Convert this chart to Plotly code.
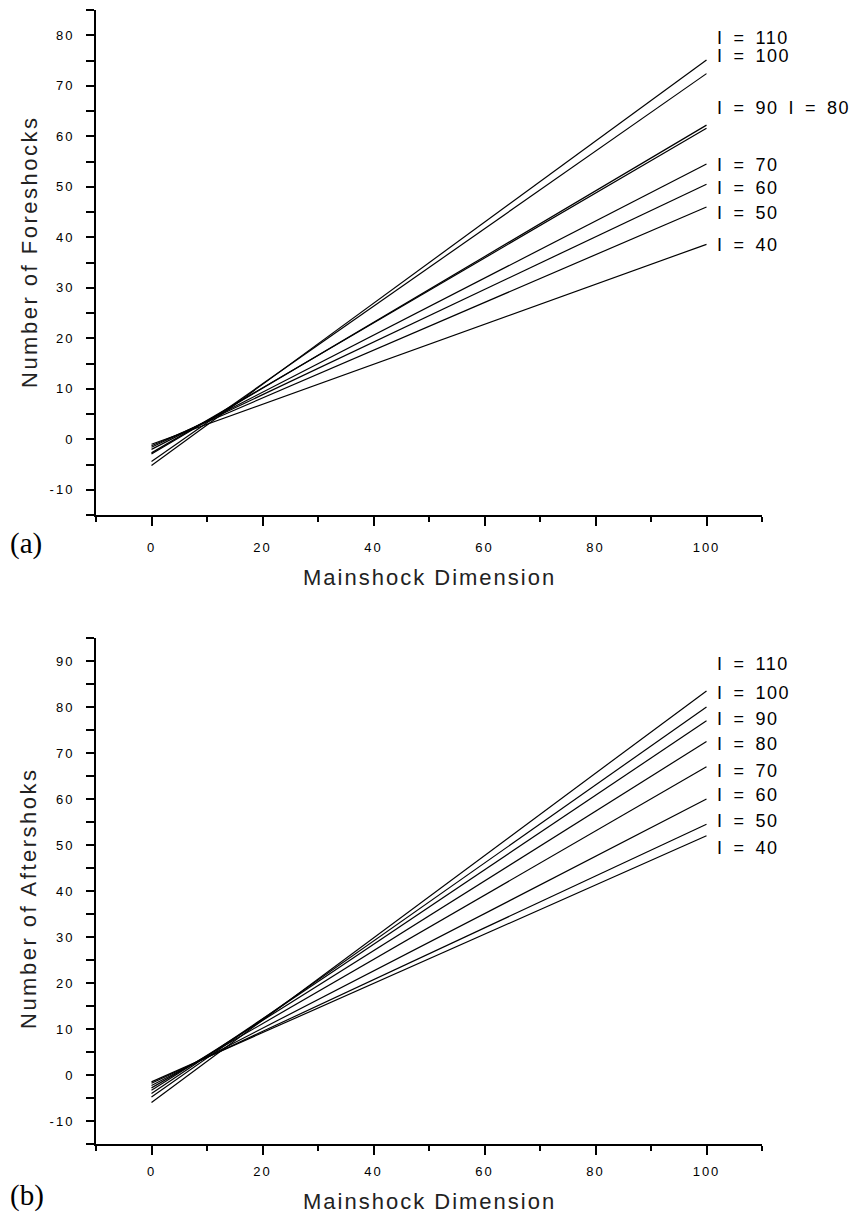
import plotly.graph_objects as go

W, H = 851, 1217

# ---- data ----
intensity = [110, 100, 90, 80, 70, 60, 50, 40]
x_ends = [0, 100]

fore_start = [-5.2, -4.4, -2.9, -2.7, -2.0, -1.6, -1.3, -1.0]
fore_end = [75.1, 72.4, 62.2, 61.6, 54.5, 50.5, 46.0, 38.6]

after_start = [-6.0, -4.8, -4.0, -3.3, -2.8, -2.3, -1.8, -1.5]
after_end = [83.5, 80.0, 77.0, 72.5, 67.0, 60.0, 54.5, 52.0]

x_ticks = [0, 20, 40, 60, 80, 100]
fore_yticks = [-10, 0, 10, 20, 30, 40, 50, 60, 70, 80]
after_yticks = [-10, 0, 10, 20, 30, 40, 50, 60, 70, 80, 90]

# ---- label placement (data coords of text) ----
fore_label_text = ["I = 110", "I = 100", "I = 90 I = 80", "I = 70", "I = 60", "I = 50", "I = 40"]
fore_label_y = [79.4, 75.8, 65.6, 54.3, 49.7, 44.9, 38.5]
after_label_text = ["I = 110", "I = 100", "I = 90", "I = 80", "I = 70", "I = 60", "I = 50", "I = 40"]
after_label_y = [89.3, 83.0, 77.4, 72.0, 66.1, 60.9, 55.2, 49.3]


def px(x):
    return x / W


def py(y):
    return 1 - y / H


def spaced(t, ls=2, ws=0):
    return f'<span style="letter-spacing:{ls}px;word-spacing:{ws}px">{t}</span>'


def tick_text(vals):
    return [spaced(str(v), 2) for v in vals]


fig = go.Figure()

for s, e in zip(fore_start, fore_end):
    fig.add_trace(go.Scatter(x=x_ends, y=[s, e], mode="lines",
                             line=dict(color="black", width=1.2),
                             xaxis="x", yaxis="y", showlegend=False, hoverinfo="skip"))
for s, e in zip(after_start, after_end):
    fig.add_trace(go.Scatter(x=x_ends, y=[s, e], mode="lines",
                             line=dict(color="black", width=1.2),
                             xaxis="x2", yaxis="y2", showlegend=False, hoverinfo="skip"))

tickfont = dict(family="Liberation Sans, Arial", size=13, color="black")

xcommon = dict(range=[-10, 110], showline=True, linecolor="black", linewidth=2,
               showgrid=False, zeroline=False, ticks="outside", ticklen=9, tickwidth=1.5,
               tickcolor="black", tickvals=x_ticks, ticktext=tick_text(x_ticks),
               tickfont=tickfont,
               minor=dict(dtick=10, tick0=0, ticks="outside", ticklen=5, tickwidth=1.5,
                          tickcolor="black", showgrid=False))
ycommon = dict(showline=True, linecolor="black", linewidth=2, showgrid=False,
               zeroline=False, ticks="outside", ticklen=8, tickwidth=1.5,
               tickcolor="black", tickfont=tickfont, ticklabelstandoff=9,
               minor=dict(dtick=5, tick0=0, ticks="outside", ticklen=8, tickwidth=1.5,
                          tickcolor="black", showgrid=False))

fig.update_layout(
    width=W, height=H,
    margin=dict(l=0, r=0, t=0, b=0),
    paper_bgcolor="white", plot_bgcolor="white",
    xaxis=dict(domain=[px(96), px(762)], anchor="y", ticklabelstandoff=10, **xcommon),
    yaxis=dict(domain=[py(515), py(10)], anchor="x", range=[-15, 85],
               tickvals=fore_yticks, ticktext=tick_text(fore_yticks), **ycommon),
    xaxis2=dict(domain=[px(96), px(762)], anchor="y2", ticklabelstandoff=5, **xcommon),
    yaxis2=dict(domain=[py(1144), py(638)], anchor="x2", range=[-15, 95],
                tickvals=after_yticks, ticktext=tick_text(after_yticks), **ycommon),
)

labfont = dict(family="Liberation Sans, Arial", size=18, color="black")
titlefont = dict(family="Liberation Sans, Arial", size=22, color="#222")
annots = []
for t, yv in zip(fore_label_text, fore_label_y):
    annots.append(dict(x=101.5, y=yv, xref="x", yref="y", text=spaced(t, 1.5, 3.5),
                       showarrow=False, xanchor="left", yanchor="middle", font=labfont))
for t, yv in zip(after_label_text, after_label_y):
    annots.append(dict(x=101.5, y=yv, xref="x2", yref="y2", text=spaced(t, 1.5, 3.5),
                       showarrow=False, xanchor="left", yanchor="middle", font=labfont))

annots += [
    dict(x=px(430), y=py(577), xref="paper", yref="paper",
         text=spaced("Mainshock Dimension", 2),
         showarrow=False, xanchor="center", yanchor="middle", font=titlefont),
    dict(x=px(430), y=py(1201), xref="paper", yref="paper",
         text=spaced("Mainshock Dimension", 2),
         showarrow=False, xanchor="center", yanchor="middle", font=titlefont),
    dict(x=px(29), y=py(252), xref="paper", yref="paper",
         text=spaced("Number of Foreshocks", 2.5),
         showarrow=False, xanchor="center", yanchor="middle", textangle=-90, font=titlefont),
    dict(x=px(29), y=py(898), xref="paper", yref="paper",
         text=spaced("Number of Aftershoks", 2.5),
         showarrow=False, xanchor="center", yanchor="middle", textangle=-90, font=titlefont),
    dict(x=px(8), y=py(543), xref="paper", yref="paper", text="(a)",
         showarrow=False, xanchor="left", yanchor="middle",
         font=dict(family="Liberation Serif, Times New Roman", size=29, color="black")),
    dict(x=px(8), y=py(1195), xref="paper", yref="paper", text="(b)",
         showarrow=False, xanchor="left", yanchor="middle",
         font=dict(family="Liberation Serif, Times New Roman", size=29, color="black")),
]
fig.update_layout(annotations=annots)

fig.write_html("out.html")
